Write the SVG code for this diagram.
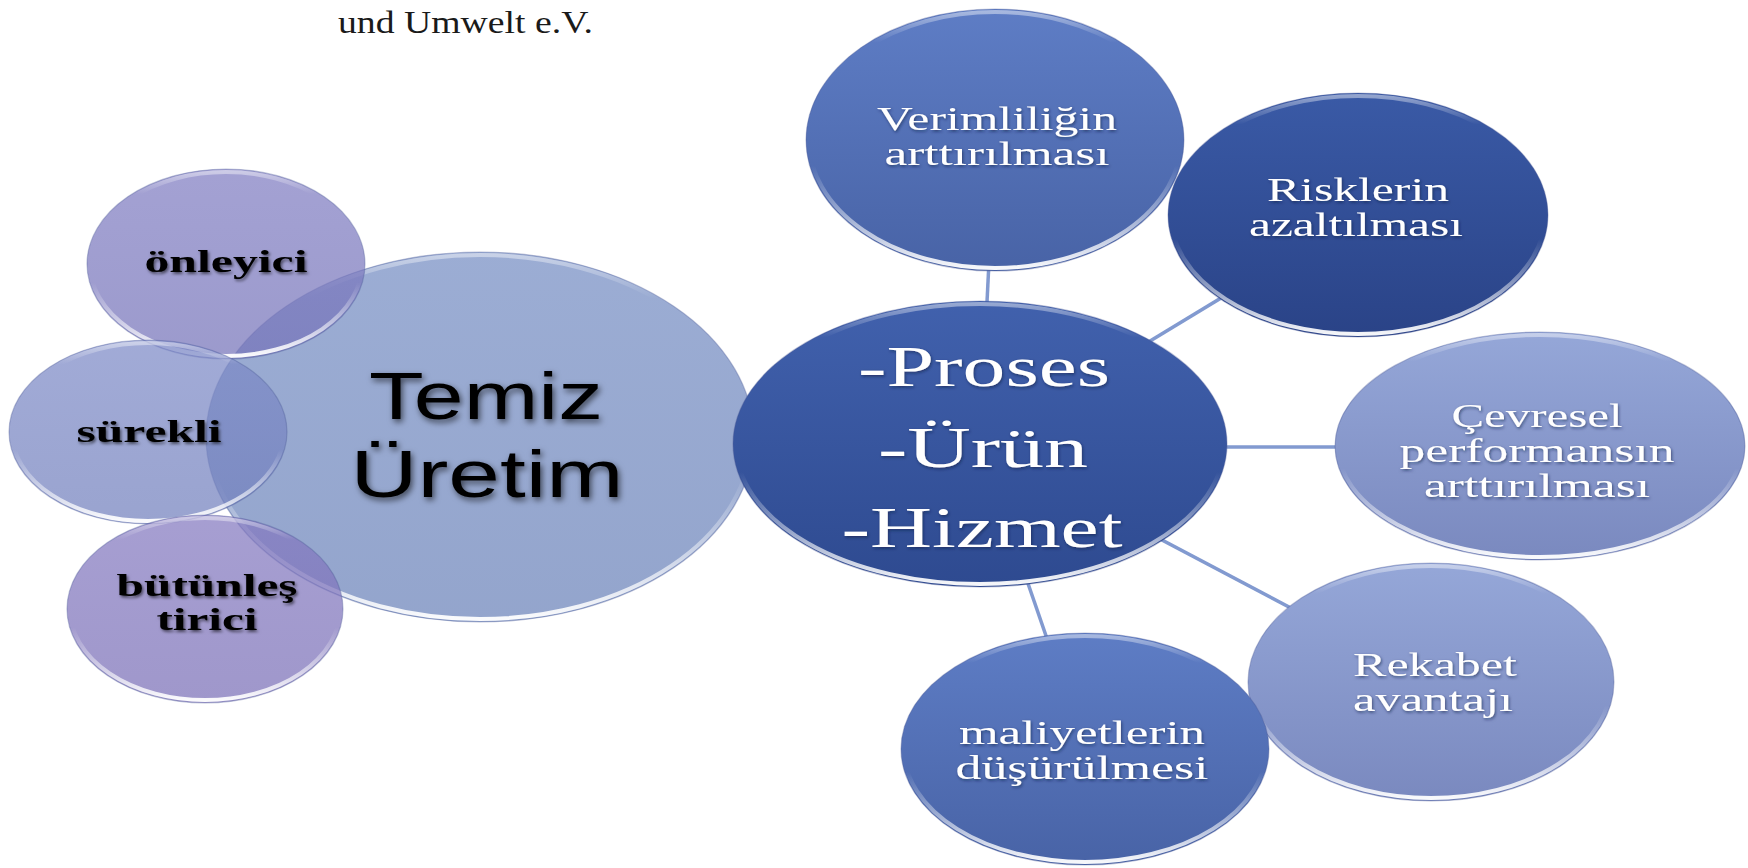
<svg xmlns="http://www.w3.org/2000/svg" width="1748" height="868" viewBox="0 0 1748 868">
<defs>
<style>
.rim{fill:none;stroke:url(#rim);stroke-width:4}
.edge{fill:none;stroke:#4a5a96;stroke-opacity:.35;stroke-width:1.2}
.tr2{fill-opacity:.72}
.con{stroke:#829ad0;stroke-width:3.5;fill:none}
.tl{font-family:"Liberation Serif",serif;font-weight:bold;font-size:32px;fill:#000;text-anchor:middle;filter:url(#sd)}
.tw{font-family:"Liberation Serif",serif;font-size:33px;fill:#fff;text-anchor:middle;filter:url(#sw)}
.tp{font-family:"Liberation Serif",serif;font-size:57px;fill:#fff;text-anchor:middle;filter:url(#sw)}
.tt{font-family:"Liberation Sans",Arial,sans-serif;font-size:66px;fill:#000;text-anchor:middle;filter:url(#sd2)}
.hdr{font-family:"Liberation Serif",serif;font-size:31px;fill:#1a1a1a}
</style>
<linearGradient id="rim" x1="0" y1="0" x2="0" y2="1">
<stop offset="0" stop-color="#fff" stop-opacity=".45"/>
<stop offset=".12" stop-color="#fff" stop-opacity="0"/>
<stop offset=".6" stop-color="#fff" stop-opacity="0"/>
<stop offset="1" stop-color="#fff" stop-opacity=".95"/>
</linearGradient>
<linearGradient id="gTem" x1="0" y1="0" x2="0" y2="1"><stop offset="0" stop-color="#758dc3"/><stop offset="1" stop-color="#6a82b9"/></linearGradient>
<linearGradient id="gOn" x1="0" y1="0" x2="0" y2="1"><stop offset="0" stop-color="#807dc2"/><stop offset="1" stop-color="#7573b9"/></linearGradient>
<linearGradient id="gSu" x1="0" y1="0" x2="0" y2="1"><stop offset="0" stop-color="#7d8ac7"/><stop offset="1" stop-color="#7280bd"/></linearGradient>
<linearGradient id="gBu" x1="0" y1="0" x2="0" y2="1"><stop offset="0" stop-color="#8479c0"/><stop offset="1" stop-color="#7a6fb7"/></linearGradient>
<linearGradient id="gPro" x1="0" y1="0" x2="0" y2="1"><stop offset="0" stop-color="#4161ad"/><stop offset="1" stop-color="#2e4a90"/></linearGradient>
<linearGradient id="gMid" x1="0" y1="0" x2="0" y2="1"><stop offset="0" stop-color="#5e7dc5"/><stop offset="1" stop-color="#4863a6"/></linearGradient>
<linearGradient id="gDark" x1="0" y1="0" x2="0" y2="1"><stop offset="0" stop-color="#3a5aa6"/><stop offset="1" stop-color="#2a4387"/></linearGradient>
<linearGradient id="gLight" x1="0" y1="0" x2="0" y2="1"><stop offset="0" stop-color="#95a7d8"/><stop offset="1" stop-color="#7a89bf"/></linearGradient>
<filter id="sd" x="-20%" y="-40%" width="140%" height="180%"><feDropShadow dx="1.5" dy="2" stdDeviation="1.8" flood-color="#000" flood-opacity=".55"/></filter>
<filter id="sd2" x="-20%" y="-40%" width="140%" height="180%"><feDropShadow dx="2" dy="3" stdDeviation="3" flood-color="#000" flood-opacity=".6"/></filter>
<filter id="sw" x="-20%" y="-40%" width="140%" height="180%"><feDropShadow dx="1" dy="1.5" stdDeviation="1.5" flood-color="#0a1a40" flood-opacity=".6"/></filter>
</defs>
<rect width="1748" height="868" fill="#fff"/>
<text class="hdr" x="338" y="33" textLength="255" lengthAdjust="spacingAndGlyphs">und Umwelt e.V.</text>

<g id="connectors">
<line class="con" x1="980" y1="444" x2="995" y2="140"/>
<line class="con" x1="980" y1="444" x2="1358" y2="215"/>
<line class="con" x1="980" y1="447" x2="1540" y2="447"/>
<line class="con" x1="980" y1="444" x2="1431" y2="682"/>
<line class="con" x1="980" y1="444" x2="1085" y2="749"/>
</g>

<g id="n-temiz">
<ellipse class="tr2" cx="480" cy="437" rx="274" ry="185" fill="url(#gTem)"/>
<ellipse class="edge" cx="480" cy="437" rx="274" ry="185"/>
<ellipse class="rim" cx="480" cy="437" rx="271" ry="182"/>
</g>
<g id="n-onleyici">
<ellipse class="tr2" cx="226" cy="264" rx="139" ry="95" fill="url(#gOn)"/>
<ellipse class="edge" cx="226" cy="264" rx="139" ry="95"/>
<ellipse class="rim" cx="226" cy="264" rx="136" ry="92"/>
<text class="tl" x="226" y="272" textLength="163" lengthAdjust="spacingAndGlyphs">önleyici</text>
</g>
<g id="n-surekli">
<ellipse class="tr2" cx="148" cy="432" rx="139" ry="92" fill="url(#gSu)"/>
<ellipse class="edge" cx="148" cy="432" rx="139" ry="92"/>
<ellipse class="rim" cx="148" cy="432" rx="136" ry="89"/>
<text class="tl" x="149" y="442" textLength="145" lengthAdjust="spacingAndGlyphs">sürekli</text>
</g>
<g id="n-butunlestirici">
<ellipse class="tr2" cx="205" cy="609" rx="138" ry="94" fill="url(#gBu)"/>
<ellipse class="edge" cx="205" cy="609" rx="138" ry="94"/>
<ellipse class="rim" cx="205" cy="609" rx="135" ry="91"/>
<text class="tl" x="207" y="596" textLength="181" lengthAdjust="spacingAndGlyphs">bütünleş</text>
<text class="tl" x="207" y="630" textLength="101" lengthAdjust="spacingAndGlyphs">tirici</text>
</g>
<g id="n-temiz-label">
<text class="tt" x="486" y="419" textLength="234" lengthAdjust="spacingAndGlyphs">Temiz</text>
<text class="tt" x="487" y="497" textLength="273" lengthAdjust="spacingAndGlyphs">Üretim</text>
</g>

<g id="n-proses">
<ellipse cx="980" cy="444" rx="247" ry="143" fill="url(#gPro)"/>
<ellipse class="edge" cx="980" cy="444" rx="247" ry="143"/>
<ellipse class="rim" cx="980" cy="444" rx="244" ry="140"/>
<text class="tp" x="984" y="386" textLength="252" lengthAdjust="spacingAndGlyphs">-Proses</text>
<text class="tp" x="983" y="467" textLength="210" lengthAdjust="spacingAndGlyphs">-Ürün</text>
<text class="tp" x="982" y="547" textLength="281" lengthAdjust="spacingAndGlyphs">-Hizmet</text>
</g>
<g id="n-verimlilik">
<ellipse cx="995" cy="140" rx="189" ry="131" fill="url(#gMid)"/>
<ellipse class="edge" cx="995" cy="140" rx="189" ry="131"/>
<ellipse class="rim" cx="995" cy="140" rx="186" ry="128"/>
<text class="tw" x="997" y="130" textLength="240" lengthAdjust="spacingAndGlyphs">Verimliliğin</text>
<text class="tw" x="997" y="165" textLength="225" lengthAdjust="spacingAndGlyphs">arttırılması</text>
</g>
<g id="n-risk">
<ellipse cx="1358" cy="215" rx="190" ry="122" fill="url(#gDark)"/>
<ellipse class="edge" cx="1358" cy="215" rx="190" ry="122"/>
<ellipse class="rim" cx="1358" cy="215" rx="187" ry="119"/>
<text class="tw" x="1358" y="201" textLength="182" lengthAdjust="spacingAndGlyphs">Risklerin</text>
<text class="tw" x="1356" y="236" textLength="214" lengthAdjust="spacingAndGlyphs">azaltılması</text>
</g>
<g id="n-cevre">
<ellipse cx="1540" cy="446" rx="205" ry="114" fill="url(#gLight)"/>
<ellipse class="edge" cx="1540" cy="446" rx="205" ry="114"/>
<ellipse class="rim" cx="1540" cy="446" rx="202" ry="111"/>
<text class="tw" x="1537" y="427" textLength="171" lengthAdjust="spacingAndGlyphs">Çevresel</text>
<text class="tw" x="1537" y="462" textLength="275" lengthAdjust="spacingAndGlyphs">performansın</text>
<text class="tw" x="1537" y="497" textLength="226" lengthAdjust="spacingAndGlyphs">arttırılması</text>
</g>
<g id="n-rekabet">
<ellipse cx="1431" cy="682" rx="183" ry="119" fill="url(#gLight)"/>
<ellipse class="edge" cx="1431" cy="682" rx="183" ry="119"/>
<ellipse class="rim" cx="1431" cy="682" rx="180" ry="116"/>
<text class="tw" x="1435" y="676" textLength="164" lengthAdjust="spacingAndGlyphs">Rekabet</text>
<text class="tw" x="1433" y="711" textLength="160" lengthAdjust="spacingAndGlyphs">avantajı</text>
</g>
<g id="n-maliyet">
<ellipse cx="1085" cy="749" rx="184" ry="116" fill="url(#gMid)"/>
<ellipse class="edge" cx="1085" cy="749" rx="184" ry="116"/>
<ellipse class="rim" cx="1085" cy="749" rx="181" ry="113"/>
<text class="tw" x="1082" y="744" textLength="246" lengthAdjust="spacingAndGlyphs">maliyetlerin</text>
<text class="tw" x="1082" y="779" textLength="253" lengthAdjust="spacingAndGlyphs">düşürülmesi</text>
</g>
</svg>
